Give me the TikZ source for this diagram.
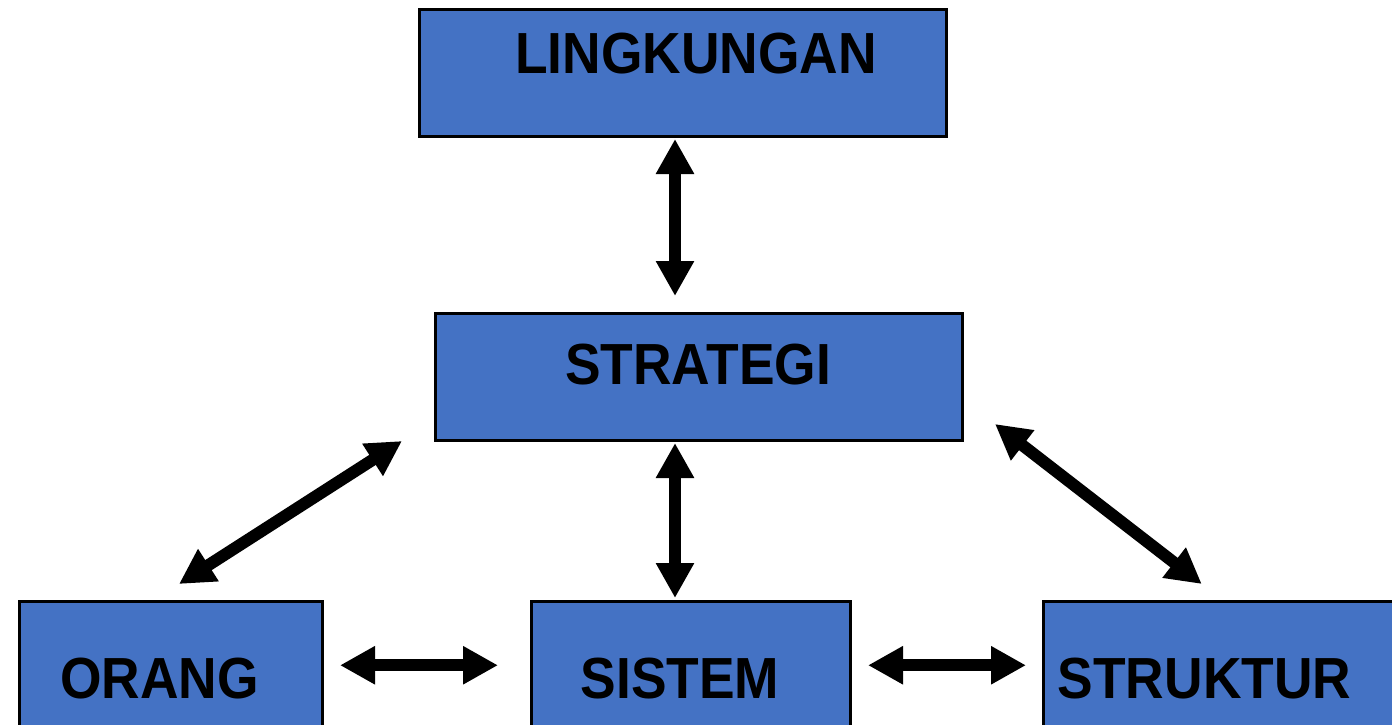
\documentclass[tikz,border=0pt]{standalone}
\usepackage{fontspec}
\newfontfamily\boxfont{Liberation Sans}[FakeStretch=0.92]
\usetikzlibrary{arrows.meta}
\definecolor{boxblue}{HTML}{4472C4}
\begin{document}
\begin{tikzpicture}[x=1pt,y=-1pt,
  blk/.style={draw=black, line width=3pt, fill=boxblue, inner sep=0pt,
    font=\boxfont\bfseries\fontsize{58}{60}\selectfont, text=black},
  toprow/.style={blk, minimum width=527pt, minimum height=127pt},
  botrow/.style={blk, minimum height=127.5pt, text height=65.5pt, text depth=0pt},
  link/.style={line width=12pt,
    {Triangle[length=35pt,width=36pt]}-{Triangle[length=35pt,width=36pt]}}]
\useasboundingbox (0,0) rectangle (1392,725);

% boxes
\node[toprow, text height=42pt, text depth=40pt] (ling) at (683,73) {\hspace*{26pt}LINGKUNGAN};
\node[toprow, text height=42pt, text depth=28pt] (strat) at (699,377) {STRATEGI\hspace*{2pt}};
\node[botrow, minimum width=303pt] (orang) at (171,665.25) {ORANG\hspace*{23pt}};
\node[botrow, minimum width=319pt] (sist) at (691,665.25) {SISTEM\hspace*{22pt}};
\node[botrow, minimum width=356.5pt] (stru) at (1221.75,665.25) {STRUKTUR\hspace*{34.5pt}};

% connectors
\draw[link] ([xshift=-8pt,yshift=-1pt]ling.south) -- ([xshift=-24pt,yshift=16pt]strat.north);
\draw[link] ([xshift=-24pt,yshift=-1pt]strat.south) -- ([xshift=-16pt,yshift=2pt]sist.north);
\draw[link] ([xshift=8pt,yshift=16pt]orang.north) -- ([xshift=-32pt,yshift=1pt]strat.south west);
\draw[link] ([xshift=31pt,yshift=18pt]strat.south east) -- ([xshift=-20pt,yshift=16pt]stru.north);
\draw[link] ([xshift=16pt]orang.east) -- ([xshift=-32pt]sist.west);
\draw[link] ([xshift=16pt]sist.east) -- ([xshift=-16pt]stru.west);
\end{tikzpicture}
\end{document}
